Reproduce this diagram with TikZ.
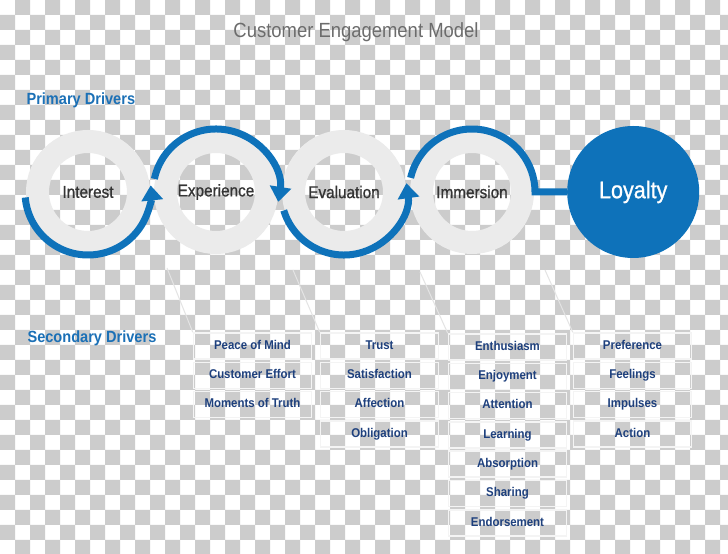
\documentclass[tikz,border=0pt]{standalone}
\usepackage{fontspec}
\setmainfont{Liberation Sans}[FakeStretch=0.9]
\newfontfamily\medfont{Liberation Sans}[FakeStretch=0.9, FakeBold=0.9]
\usetikzlibrary{shapes,arrows.meta,positioning}
\definecolor{mainblue}{RGB}{14,114,186}
\definecolor{headblue}{RGB}{27,112,182}
\definecolor{navy}{RGB}{30,64,125}
\definecolor{ringgray}{RGB}{235,235,235}
\definecolor{labelgray}{RGB}{52,52,52}
\definecolor{titlegray}{RGB}{108,108,108}
\definecolor{checkgray}{RGB}{204,204,204}
\definecolor{edgegray}{RGB}{244,244,244}
\definecolor{guidegray}{RGB}{228,228,228}
\tikzstyle{Ring} = [circle, draw=ringgray, line width=23pt, minimum size=101pt, text=labelgray, font=\medfont\fontsize{17}{20}\selectfont]
\tikzstyle{Goal} = [circle, fill=mainblue, minimum size=132pt, text=white, font=\medfont\fontsize{24}{28}\selectfont]
\tikzstyle{Flow} = [draw=mainblue, line width=7pt, -{Triangle[width=21pt,length=15pt]}]
\tikzstyle{Driver} = [draw=edgegray, line width=1.5pt, rectangle, minimum width=118pt, minimum height=26pt, text height=9.2pt, text depth=2.6pt, text=navy, font=\bfseries\fontsize{12.7}{14}\selectfont]
\tikzstyle{Head} = [anchor=west, text=headblue, font=\bfseries\fontsize{16.2}{19}\selectfont]
\tikzstyle{Guide} = [draw=guidegray, line width=1pt]

\begin{document}
\begin{tikzpicture}[x=1pt,y=1pt]
    \useasboundingbox (0,0) rectangle (728,554);
    \fill[white] (0,0) rectangle (728,554);
    \begin{scope}
      \clip (0,0) rectangle (728,554);
      \begin{scope}[shift={(0,554)}, yscale=-1]
        \fill[checkgray] \foreach \i in {0,...,24} {\foreach \j in {0,...,18} {(30*\i+15,30*\j) rectangle ++(15,15) (30*\i,30*\j+15) rectangle ++(15,15)}};
      \end{scope}
    \end{scope}

    \node (title) at (356,522) [text=titlegray, font=\fontsize{20.5}{24}\selectfont] {Customer Engagement Model};
    \node[Head] (primary)   at (23,454) {Primary Drivers};
    \node[Head] (secondary) at (24,216) {Secondary Drivers};

    \node[Ring] (interest)                            at (88,362) {Interest};
    \node[Ring] (experience) [right=4pt of interest]   {Experience};
    \node[Ring] (evaluation) [right=4pt of experience] {Evaluation};
    \node[Ring] (immersion)  [right=4pt of evaluation] {Immersion};
    \node[Goal] (loyalty)    [right=33pt of immersion] {Loyalty};

    \draw[Flow] ([shift={(185:63pt)}]interest.center) arc[start angle=185, end angle=366, radius=63pt];
    \draw[Flow] ([shift={(168:63pt)}]experience.center) arc[start angle=168, end angle=-9, radius=63pt];
    \draw[Flow] ([shift={(197:63pt)}]evaluation.center) arc[start angle=197, end angle=368, radius=63pt];
    \draw[draw=mainblue, line width=7pt] ([shift={(167:63pt)}]immersion.center) arc[start angle=167, end angle=0, radius=63pt] -- (loyalty.west);

    \node[Driver] (mind)     at (252.5,208)          {Peace of Mind};
    \node[Driver] (effort)   [below=1.8pt of mind]   {Customer Effort};
    \node[Driver] (truth)    [below=1.8pt of effort] {Moments of Truth};

    \node[Driver] (trust)        at (379.5,208)                {Trust};
    \node[Driver] (satisfaction) [below=1.8pt of trust]        {Satisfaction};
    \node[Driver] (affection)    [below=1.8pt of satisfaction] {Affection};
    \node[Driver] (obligation)   [below=1.8pt of affection]    {Obligation};

    \node[Driver] (enthusiasm)  at (507.5,207)              {Enthusiasm};
    \node[Driver] (enjoyment)   [below=1.8pt of enthusiasm] {Enjoyment};
    \node[Driver] (attention)   [below=1.8pt of enjoyment]  {Attention};
    \node[Driver] (learning)    [below=1.8pt of attention]  {Learning};
    \node[Driver] (absorption)  [below=1.8pt of learning]   {Absorption};
    \node[Driver] (sharing)     [below=1.8pt of absorption] {Sharing};
    \node[Driver] (endorsement) [below=1.8pt of sharing]    {Endorsement};

    \node[Driver] (preference) at (632.5,208)              {Preference};
    \node[Driver] (feelings)   [below=1.8pt of preference] {Feelings};
    \node[Driver] (impulses)   [below=1.8pt of feelings]   {Impulses};
    \node[Driver] (action)     [below=1.8pt of impulses]   {Action};

    \coordinate (g1) at (167,286);
    \coordinate (g2) at (293,284);
    \coordinate (g3) at (420,282);
    \coordinate (g4) at (545,284);
    \draw[Guide] (g1) -- (mind.north west);
    \draw[Guide] (g2) -- (trust.north west);
    \draw[Guide] (g3) -- (enthusiasm.north west);
    \draw[Guide] (g4) -- (preference.north west);
  \end{tikzpicture}
\end{document}
